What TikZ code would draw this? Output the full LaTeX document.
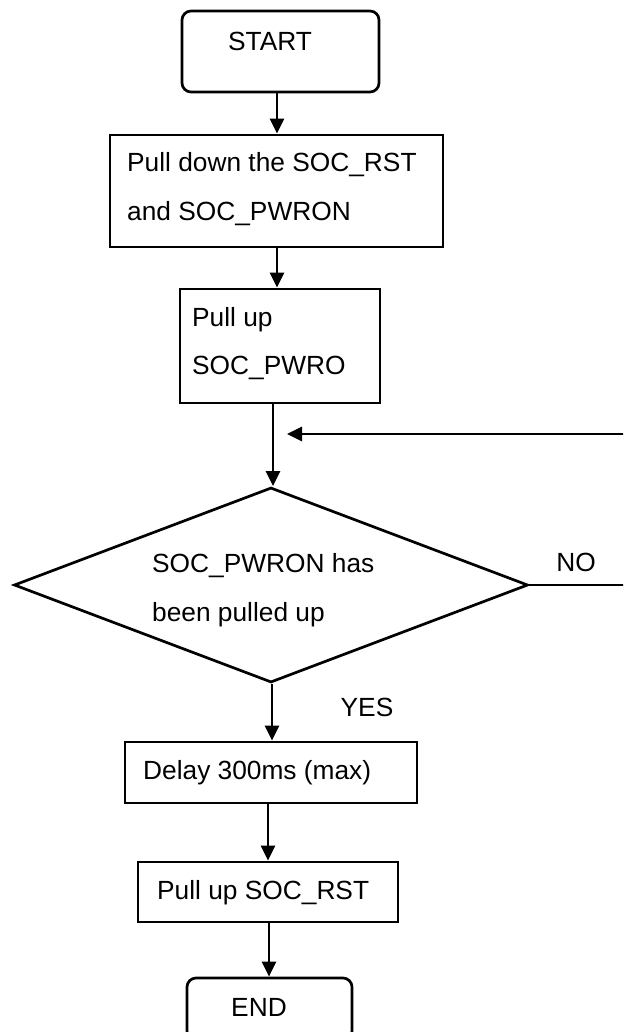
\documentclass[tikz,border=0pt]{standalone}
\usepackage{fontspec}
\setmainfont{Liberation Sans}
\usetikzlibrary{shapes.geometric,arrows.meta}
\tikzset{
  ln/.style={line width=2.7pt},
  arr/.style={ln,-{Triangle[length=15pt,width=14pt]}},
  box/.style={draw,ln,rectangle,inner sep=0pt},
  term/.style={box,rounded corners=9pt},
  decision/.style={draw,ln,diamond,inner sep=0pt},
  txt/.style={inner sep=0pt,anchor=base west,font=\fontsize{26.3}{30}\selectfont},
  ctxt/.style={txt,anchor=base}
}
\begin{document}
\begin{tikzpicture}[x=1pt,y=-1pt]
\useasboundingbox (0,0) rectangle (623,1032);
\clip (0,0) rectangle (623,1032);
\fill[white] (0,0) rectangle (623,1032);
% shapes
\node[term,minimum width=197pt,minimum height=81pt] (start) at (280.5,51.5) {};
\node[box,minimum width=333pt,minimum height=112pt] (pd) at (276.5,191) {};
\node[box,minimum width=200pt,minimum height=114pt] (pu) at (280,346) {};
\node[decision,minimum width=514pt,minimum height=195pt] (dec) at (271,585) {};
\node[box,minimum width=292pt,minimum height=61pt] (delay) at (271,772.5) {};
\node[box,minimum width=260pt,minimum height=60pt] (rst) at (268,892) {};
\node[term,minimum width=165pt,minimum height=62pt] (end) at (269.5,1009) {};
% texts
\node[ctxt] (tstart) at (270,51) {START};
\node[txt] (tpd1) at (127,172) {Pull down the SOC\_RST};
\node[txt] (tpd2) at (127,221) {and SOC\_PWRON};
\node[txt] (tpu1) at (192,326) {Pull up};
\node[txt] (tpu2) at (192,374.5) {SOC\_PWRO};
\node[txt] (td1) at (152,572) {SOC\_PWRON has};
\node[txt] (td2) at (152,621) {been pulled up};
\node[ctxt] (tno) at (576,571) {NO};
\node[ctxt] (tyes) at (367,716) {YES};
\node[txt] (tdelay) at (143,779.5) {Delay 300ms (max)};
\node[txt] (trst) at (157,899) {Pull up SOC\_RST};
\node[ctxt] (tend) at (259,1016.5) {END};
% helper coordinates
\coordinate (xa) at (277,0);
\coordinate (xb) at (273,0);
\coordinate (xc) at (272,0);
\coordinate (xd) at (268,0);
\coordinate (xe) at (269,0);
\coordinate (fbR) at (640,434);
\coordinate (fbTip) at (287,434);
\coordinate (noR) at (640,585);
% connectors
\draw[arr] (start.south -| xa) -- (pd.north -| xa);
\draw[arr] (pd.south -| xa) -- (pu.north -| xa);
\draw[arr] (pu.south -| xb) -- (dec.north -| xb);
\draw[arr] (dec.south -| xc) -- (delay.north -| xc);
\draw[arr] (delay.south -| xd) -- (rst.north -| xd);
\draw[arr] (rst.south -| xe) -- (end.north -| xe);
\draw[ln] (dec.east) -- (noR);
\draw[arr] (fbR) -- (fbTip);
\end{tikzpicture}
\end{document}
